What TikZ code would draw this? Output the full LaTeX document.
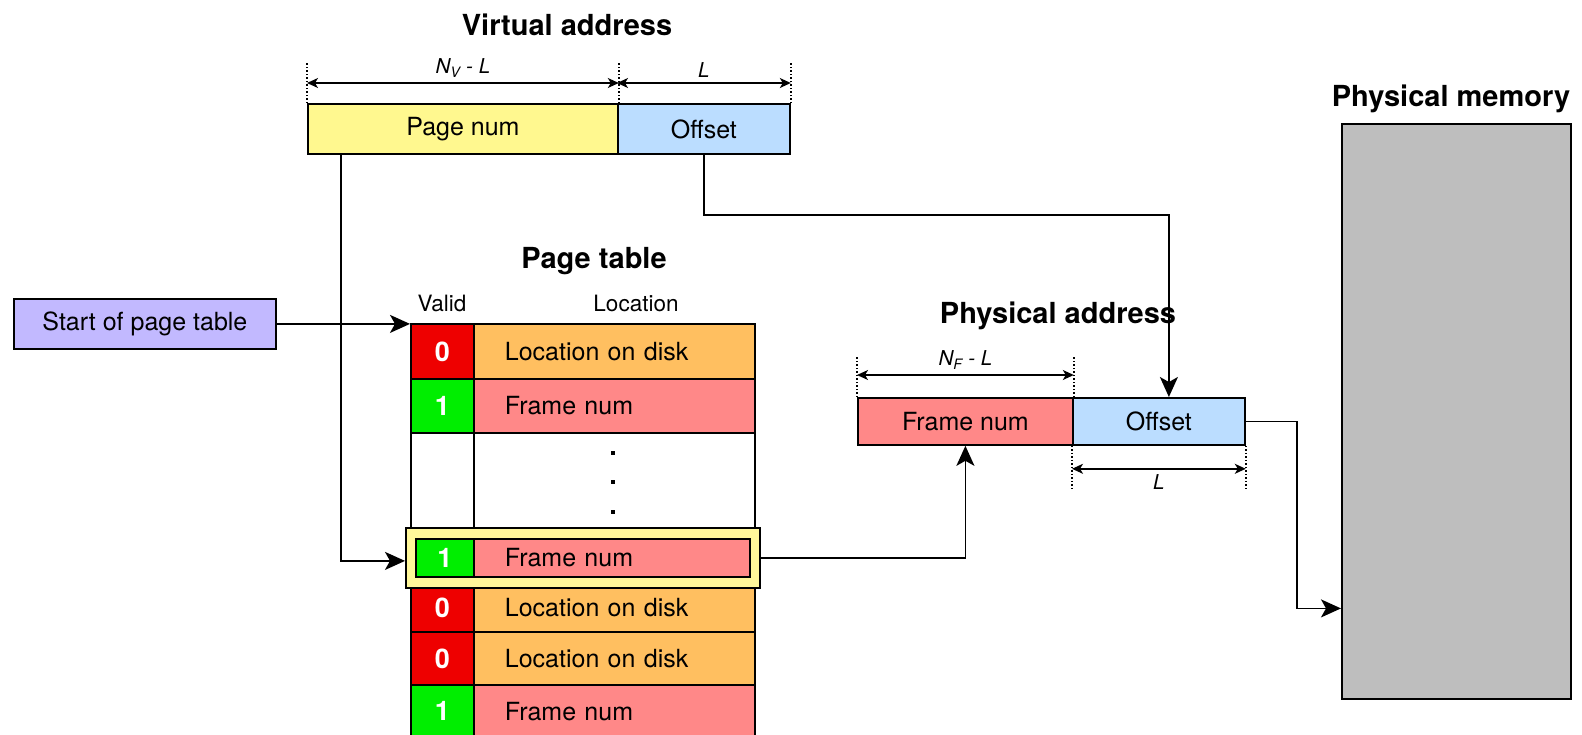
\documentclass[tikz,border=0pt]{standalone}
\usepackage{fontspec}
\setmainfont{TeX Gyre Heros}
\usetikzlibrary{arrows.meta,calc}

\definecolor{pnyellow}{HTML}{FFF88F}
\definecolor{offblue}{HTML}{BBDDFF}
\definecolor{vred}{HTML}{EE0000}
\definecolor{vgreen}{HTML}{00EE00}
\definecolor{diskorange}{HTML}{FFBF60}
\definecolor{framepink}{HTML}{FF8888}
\definecolor{startpurple}{HTML}{C2B9FF}
\definecolor{memgray}{HTML}{BEBEBE}
\definecolor{hlyellow}{HTML}{FFF79A}

\tikzset{
  box/.style={draw=black, line width=1.8pt, inner sep=0pt, anchor=north west,
              font=\fontsize{25}{30}\selectfont},
  validcell/.style={box, text=white, font=\fontsize{27}{32}\selectfont\bfseries},
  loccell/.style={box, inner xsep=31pt, align=left},
  ttl/.style={font=\fontsize{29}{34}\selectfont\bfseries, inner sep=0pt},
  colhead/.style={font=\fontsize{22.5}{27}\selectfont, inner sep=0pt},
  dimlbl/.style={font=\fontsize{20.5}{24}\selectfont\itshape, inner sep=0pt},
  tick/.style={line width=1.4pt, dash pattern=on 1.5pt off 2pt},
  dimline/.style={line width=1.4pt,
                  {Stealth[length=11pt,width=10pt,inset=3pt]}-{Stealth[length=11pt,width=10pt,inset=3pt]}},
  arr/.style={line width=1.8pt, -{Stealth[length=20pt,width=18pt,inset=5pt]}},
}

\begin{document}
\begin{tikzpicture}[x=1pt,y=-1pt]
\useasboundingbox (0,0) rectangle (1582,734);

% ---------- Virtual address ----------
\node[ttl] (vatitle) at (567,25) {Virtual address};
\node[box, fill=pnyellow, minimum width=310pt, minimum height=50pt] (vapage) at (307,103) {Page num};
\node[box, fill=offblue, minimum width=172pt, minimum height=50pt] (vaoff) at (617,103) {Offset};

\draw[tick] (vapage.north west) -- ++(0,-40);
\draw[tick] (vapage.north east) -- ++(0,-40);
\draw[tick] (vaoff.north east) -- ++(0,-40);
\draw[dimline] ($(vapage.north west)+(0,-20)$) -- ($(vapage.north east)+(0,-20)$)
  node[midway, above=5pt, dimlbl] {N\textsubscript{V} - L};
\draw[dimline] ($(vaoff.north west)+(0,-20)$) -- ($(vaoff.north east)+(0,-20)$)
  node[midway, above=5pt, dimlbl] {L};

% ---------- Start of page table ----------
\node[box, fill=startpurple, minimum width=262pt, minimum height=50pt] (start) at (13,298) {Start of page table};

% ---------- Page table ----------
\node[ttl] (pttitle) at (594,261) {Page table};
\node[colhead] (validhead) at (442,303) {Valid};
\node[colhead] (lochead) at (636,303) {Location};

\node[validcell, fill=vred, minimum width=63pt, minimum height=55pt] (v1) at (410,323) {0};
\node[loccell, fill=diskorange, text width=219pt, minimum height=55pt] (l1) at (473,323) {Location on disk};
\node[validcell, fill=vgreen, minimum width=63pt, minimum height=54pt] (v2) at (410,378) {1};
\node[loccell, fill=framepink, text width=219pt, minimum height=54pt] (l2) at (473,378) {Frame num};
\node[box, fill=white, minimum width=63pt, minimum height=100pt] (vgap) at (410,432) {};
\node[box, fill=white, minimum width=281pt, minimum height=100pt] (lgap) at (473,432) {};
\foreach \yy in {453,482,512} \fill (611,\yy-2) rectangle ++(4,4);

\node[validcell, fill=vred, minimum width=63pt, minimum height=48pt] (v4) at (410,583) {0};
\node[loccell, fill=diskorange, text width=219pt, minimum height=48pt] (l4) at (473,583) {Location on disk};
\node[validcell, fill=vred, minimum width=63pt, minimum height=53pt] (v5) at (410,631) {0};
\node[loccell, fill=diskorange, text width=219pt, minimum height=53pt] (l5) at (473,631) {Location on disk};
\node[validcell, fill=vgreen, minimum width=63pt, minimum height=53pt] (v6) at (410,684) {1};
\node[loccell, fill=framepink, text width=219pt, minimum height=53pt] (l6) at (473,684) {Frame num};

% highlighted entry
\node[box, fill=hlyellow, minimum width=354pt, minimum height=60pt] (hl) at (405,527) {};
\node[validcell, fill=vgreen, minimum width=58pt, minimum height=38pt] (hv) at (415,538) {1};
\node[loccell, fill=framepink, text width=214pt, minimum height=38pt] (hlc) at (473,538) {Frame num};

% ---------- Physical address ----------
\node[ttl] (patitle) at (1058,316) {Physical address};
\node[box, fill=framepink, minimum width=215pt, minimum height=47pt] (paframe) at (857,397) {Frame num};
\node[box, fill=offblue, minimum width=172pt, minimum height=47pt] (paoff) at (1072,397) {Offset};

\draw[tick] (paframe.north west) -- ++(0,-40);
\draw[tick] (paframe.north east) -- ++(0,-40);
\draw[dimline] ($(paframe.north west)+(0,-22)$) -- ($(paframe.north east)+(0,-22)$)
  node[midway, above=5pt, dimlbl] {N\textsubscript{F} - L};
\draw[tick] (paoff.south west) -- ++(0,43);
\draw[tick] (paoff.south east) -- ++(0,43);
\draw[dimline] ($(paoff.south west)+(0,23)$) -- ($(paoff.south east)+(0,23)$)
  node[midway, below=5pt, dimlbl] {L};

% ---------- Physical memory ----------
\node[ttl] (memtitle) at (1451,99) {Physical memory};
\node[box, fill=memgray, minimum width=229pt, minimum height=575pt] (mem) at (1341,123) {};

% ---------- Connectors ----------
\draw[arr] (start.east) -- (start.east -| v1.west);
\draw[arr] ($(vapage.south west)+(34,0)$) |- ($(hl.west)+(0,3)$);
\draw[arr] (vaoff.south) -- ++(0,60) -| ($(paoff.north)+(10,0)$);
\draw[arr] (hl.east) -| (paframe.south);
\draw[arr] (paoff.east) -- ++(51,0) |- ($(mem.west)+(0,197)$);
\end{tikzpicture}
\end{document}
